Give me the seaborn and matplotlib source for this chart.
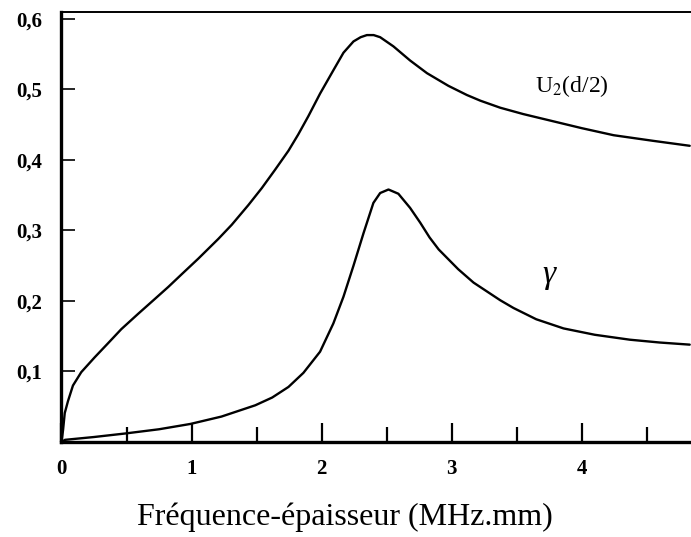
import matplotlib
matplotlib.use("Agg")
import matplotlib.pyplot as plt
from matplotlib.ticker import MultipleLocator, FixedLocator
import seaborn as sns
import pandas as pd

# ---- data ----
freq_u2 = [0, 0.012, 0.025, 0.05, 0.088, 0.152, 0.255, 0.358, 0.46, 0.591, 0.719,
           0.822, 0.925, 1.052, 1.206, 1.309, 1.437, 1.54, 1.642, 1.745, 1.82,
           1.898, 1.988, 2.09, 2.168, 2.245, 2.30, 2.348, 2.40, 2.45, 2.552, 2.68,
           2.81, 2.975, 3.117, 3.22, 3.373, 3.55, 3.73, 4.0, 4.245, 4.55, 4.83]
u2 = [0, 0.017, 0.041, 0.058, 0.080, 0.099, 0.120, 0.140, 0.160, 0.182, 0.203,
      0.220, 0.238, 0.260, 0.288, 0.308, 0.336, 0.360, 0.386, 0.413, 0.436,
      0.462, 0.494, 0.527, 0.552, 0.568, 0.574, 0.577, 0.577, 0.574, 0.561, 0.541,
      0.523, 0.505, 0.492, 0.484, 0.474, 0.465, 0.457, 0.445, 0.435, 0.427, 0.42]

freq_g = [0, 0.027, 0.25, 0.49, 0.75, 0.99, 1.23, 1.49, 1.62, 1.745, 1.86, 1.988,
          2.09, 2.168, 2.245, 2.322, 2.398, 2.45, 2.514, 2.59, 2.68, 2.758, 2.83,
          2.90, 3.05, 3.168, 3.373, 3.475, 3.65, 3.86, 4.1, 4.37, 4.6, 4.83]
gamma = [0, 0.003, 0.007, 0.012, 0.018, 0.0255, 0.036, 0.052, 0.063, 0.078, 0.098,
         0.128, 0.168, 0.206, 0.250, 0.296, 0.339, 0.353, 0.358, 0.352, 0.332, 0.311,
         0.290, 0.273, 0.245, 0.226, 0.201, 0.190, 0.174, 0.161, 0.152, 0.145, 0.141,
         0.138]

x_major = [0, 1, 2, 3, 4]
x_labels = ["0", "1", "2", "3", "4"]
y_major = [0.1, 0.2, 0.3, 0.4, 0.5, 0.6]
y_labels = ["0,1", "0,2", "0,3", "0,4", "0,5", "0,6"]

df_u2 = pd.DataFrame({"f": freq_u2, "v": u2})
df_g = pd.DataFrame({"f": freq_g, "v": gamma})

sns.set_theme(style="white")
plt.rcParams["font.family"] = ["Liberation Serif", "DejaVu Serif"]
plt.rcParams["text.color"] = "black"
plt.rcParams["axes.labelcolor"] = "black"
plt.rcParams["xtick.color"] = "black"
plt.rcParams["ytick.color"] = "black"

fig = plt.figure(figsize=(6.91, 5.37), dpi=100)
ax = fig.add_axes([0.089, 0.177, 0.911, 0.801])

sns.lineplot(data=df_u2, x="f", y="v", ax=ax, color="black", lw=1.7,
             sort=False, estimator=None)
sns.lineplot(data=df_g, x="f", y="v", ax=ax, color="black", lw=1.7,
             sort=False, estimator=None)

ax.set_xlim(0, 4.84)
ax.set_ylim(0, 0.61)

ax.xaxis.set_major_locator(FixedLocator(x_major))
ax.set_xticklabels(x_labels)
ax.xaxis.set_minor_locator(MultipleLocator(0.5))
ax.yaxis.set_major_locator(FixedLocator(y_major))
ax.set_yticklabels(y_labels)

ax.tick_params(axis="x", which="major", direction="in", length=14, width=1.6,
               pad=12, labelsize=15, bottom=True, color="black")
ax.tick_params(axis="x", which="minor", direction="in", length=11, width=1.6,
               bottom=True, color="black")
ax.tick_params(axis="y", which="major", direction="in", length=10, width=1.2,
               pad=14, labelsize=15, left=True, color="black")
for lab in ax.get_xticklabels() + ax.get_yticklabels():
    lab.set_fontweight("bold")

for side in ["left", "bottom"]:
    ax.spines[side].set_linewidth(2.4)
    ax.spines[side].set_color("black")
ax.spines["top"].set_linewidth(1.4)
ax.spines["top"].set_color("black")
ax.spines["right"].set_visible(False)

ax.set_xlabel("Fréquence-épaisseur (MHz.mm)", fontsize=23)
ax.xaxis.set_label_coords(0.45, -0.14)
ax.set_ylabel("")

ax.text(3.64, 0.505, "U$_2$(d/2)", fontsize=17, ha="left", va="center",
        math_fontfamily="stix")
ax.text(3.75, 0.237, "γ", fontsize=24, style="italic", ha="center", va="center")

fig.savefig("out.png", dpi=100)
